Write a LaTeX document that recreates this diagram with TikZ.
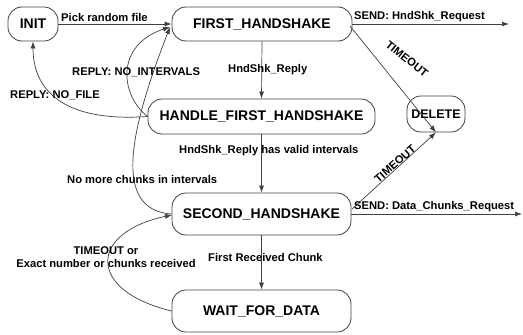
\documentclass[tikz,border=0pt]{standalone}
\usepackage{fontspec}
\setmainfont{Liberation Sans}
\usetikzlibrary{arrows.meta}
\begin{document}
\begin{tikzpicture}[x=1pt,y=-1pt,
  state/.style={draw=black!75, line width=0.8pt, rounded corners=14pt, inner sep=0pt,
    font=\bfseries\fontsize{14}{16}\selectfont},
  lbl/.style={font=\bfseries\fontsize{11.2}{13}\selectfont, inner sep=0pt, anchor=west},
  conn/.style={draw=black!75, line width=0.7pt, -{Latex[length=7pt,width=5pt]}},
  plain/.style={draw=black!75, line width=0.7pt}
]
\useasboundingbox (0,0) rectangle (523,335);

% states
\node[state, minimum width=50pt, minimum height=34pt] (init) at (33,24) {INIT};
\node[state, minimum width=180pt, minimum height=34pt] (fh) at (262,24) {FIRST\_HANDSHAKE};
\node[state, minimum width=227pt, minimum height=35pt] (hfh) at (261.5,116.5) {HANDLE\_FIRST\_HANDSHAKE};
\node[state, minimum width=58pt, minimum height=36pt, font=\bfseries\fontsize{12.5}{14}\selectfont] (del) at (436,114) {DELETE};
\node[state, minimum width=179pt, minimum height=42pt] (sh) at (261.5,214) {SECOND\_HANDSHAKE};
\node[state, minimum width=179pt, minimum height=42pt] (wfd) at (261.5,311) {WAIT\_FOR\_DATA};

% free ends of outgoing messages
\coordinate (out1) at (509,24);
\coordinate (out2) at (522,214);
\coordinate (fhin) at (170,27);
\coordinate (shin) at (172,215);

% straight transitions
\draw[conn] (init.east) -- (fh.west);
\draw[conn] (fh.east) -- (out1);
\draw[conn] (fh.south) -- (hfh.north);
\draw[conn] (hfh.south) -- (sh.north);
\draw[conn] (sh.south) -- (wfd.north);
\draw[conn] (350,26) -- (del.south) ;
\draw[conn] (sh.east) -- (out2);
\draw[conn] (352,209) -- (del.south);

% curved transitions
\draw[conn] (hfh.west) .. controls (70,122) and (33,95) .. (init.south);
\draw[conn] (hfh.west) .. controls (120,95) and (115,45) .. (fhin);
\draw[conn] (sh.west) .. controls (110,210) and (132,125) .. (fhin);
\draw[conn] (wfd.west) .. controls (85,290) and (90,232) .. (shin);

% labels
\node[lbl] (l1) at (61,17) {Pick random file};
\node[lbl] (l2) at (354,17) {SEND: HndShk\_Request};
\node[lbl] (l3) at (72,72) {REPLY: NO\_INTERVALS};
\node[lbl] (l4) at (228,70) {HndShk\_Reply};
\node[lbl] (l5) at (10,95) {REPLY: NO\_FILE};
\node[lbl] (l6) at (179,151) {HndShk\_Reply has valid intervals};
\node[lbl] (l7) at (67,179) {No more chunks in intervals};
\node[lbl, anchor=center, align=center] (l8) at (106,257) {TIMEOUT or\\Exact number or chunks received};
\node[lbl] (l9) at (208,257) {First Received Chunk};
\node[lbl] (l10) at (354,207) {SEND: Data\_Chunks\_Request};
\node[lbl, anchor=center, rotate=-38.5] (l11) at (407,59) {TIMEOUT};
\node[lbl, anchor=center, rotate=41.5] (l12) at (395,164) {TIMEOUT};
\end{tikzpicture}
\end{document}
